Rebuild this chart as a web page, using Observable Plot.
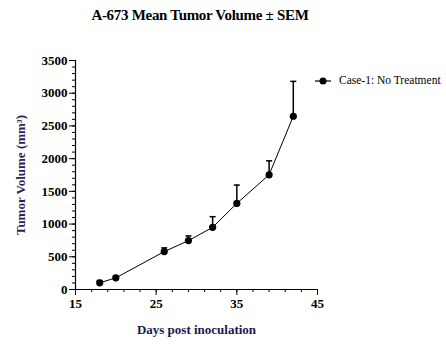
<!DOCTYPE html>
<html>
<head>
<meta charset="utf-8">
<script src="https://cdn.jsdelivr.net/npm/d3@7"></script>
<script src="https://cdn.jsdelivr.net/npm/@observablehq/plot@0.6"></script>
<style>
  html, body { margin: 0; padding: 0; background: #fff; }
  #wrap { position: relative; width: 446px; height: 361px; font-family: "Liberation Serif", "Times New Roman", serif; }
  #title { position: absolute; left: 0; top: 8px; width: 400px; text-align: center; font-size: 15px; font-weight: bold; color: #000; line-height: 1; letter-spacing: -0.3px; z-index: 2; }
  #legend { position: absolute; left: 315px; top: 75px; display: flex; align-items: center; font-size: 11.5px; color: #000; line-height: 1; z-index: 2; }
  #legend svg { margin-right: 8px; }
</style>
</head>
<body>
<div id="wrap">
  <div id="title">A-673 Mean Tumor Volume ± SEM</div>
  <div id="legend"><svg width="16" height="10"><line x1="0" y1="5" x2="16" y2="5" stroke="#000" stroke-width="1.2"/><circle cx="8" cy="5" r="3.5" fill="#000"/></svg><span>Case-1: No Treatment</span></div>
</div>
<script>
const days = [18, 20, 26, 29, 32, 35, 39, 42];
const meanVolume = [102, 178, 579, 747, 950, 1316, 1753, 2648];
const sem = [35, 25, 57, 71, 163, 280, 213, 533];
const seriesName = "Case-1: No Treatment";
const xMajorTicks = [15, 25, 35, 45];
const yMajorTicks = [0, 500, 1000, 1500, 2000, 2500, 3000, 3500];

const data = days.map((d, i) => ({day: d, mean: meanVolume[i], upper: meanVolume[i] + sem[i], series: seriesName}));
const xMinor = d3.range(15, 46, 2);
const yMinor = d3.range(0, 3501, 100);

// horizontal cap symbol for error bars
const capSymbol = {draw(context, size) { const w = Math.sqrt(size) / 2; context.moveTo(-w, 0); context.lineTo(w, 0); }};

const chart = Plot.plot({
  width: 446,
  height: 361,
  marginLeft: 75,
  marginRight: 129,
  marginTop: 60,
  marginBottom: 72,
  style: {fontFamily: "'Liberation Serif', 'Times New Roman', serif", background: "transparent", color: "#000"},
  x: {type: "linear", domain: [15, 45], label: null},
  y: {type: "linear", domain: [0, 3500], label: null},
  marks: [
    Plot.axisX(xMinor, {tickSize: 3, text: null, strokeWidth: 1}),
    Plot.axisX(xMajorTicks, {tickSize: 6, tickPadding: 3, tickFormat: d => String(d), fontSize: 13, fontWeight: "bold", strokeWidth: 1}),
    Plot.axisY(yMinor, {tickSize: 3, text: null, strokeWidth: 1}),
    Plot.axisY(yMajorTicks, {tickSize: 6, tickPadding: 2, tickFormat: d => String(d), fontSize: 13, fontWeight: "bold", strokeWidth: 1}),
    Plot.axisX({anchor: "bottom", ticks: [], label: "Days post inoculation", labelAnchor: "center", labelArrow: "none", labelOffset: 44, fontSize: 13, fontWeight: "bold", fill: "#1a1a4a"}),
    Plot.axisY({anchor: "left", ticks: [], label: "Tumor Volume (mm³)", labelAnchor: "center", labelArrow: "none", labelOffset: 60, fontSize: 13, fontWeight: "bold", fill: "#2a1f5e"}),
    Plot.ruleY([0], {strokeWidth: 1.2}),
    Plot.ruleX([15], {strokeWidth: 1.2}),
    Plot.ruleX(data, {x: "day", y1: "mean", y2: "upper", strokeWidth: 1.5}),
    Plot.dot(data, {x: "day", y: "upper", symbol: capSymbol, r: 3.4, stroke: "#000", strokeWidth: 1.5, fill: "none"}),
    Plot.line(data, {x: "day", y: "mean", strokeWidth: 1}),
    Plot.dot(data, {x: "day", y: "mean", r: 3.6, fill: "#000", stroke: null})
  ]
});
document.getElementById("wrap").prepend(chart);
chart.style.position = "absolute";
chart.style.left = "0";
chart.style.top = "0";
</script>
</body>
</html>
